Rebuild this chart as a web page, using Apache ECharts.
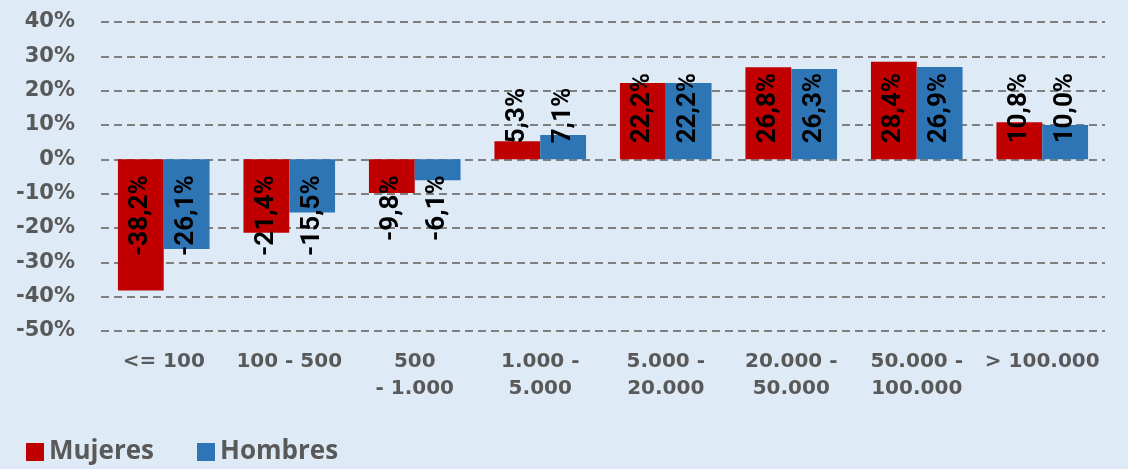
<!DOCTYPE html>
<html>
<head>
<meta charset="utf-8">
<script src="https://cdn.jsdelivr.net/npm/echarts@6/dist/echarts.min.js"></script>
<style>
  html, body { margin: 0; padding: 0; background: #DEEAF6; }
  #chart { width: 1128px; height: 469px; }
</style>
</head>
<body>
<div id="chart"></div>
<script>
// categorias (tamaño de municipio) y variaciones en %
const categories = ['<= 100', '100 - 500', '500\n- 1.000', '1.000 -\n5.000', '5.000 -\n20.000', '20.000 -\n50.000', '50.000 -\n100.000', '> 100.000'];
const mujeres = [-38.2, -21.4, -9.8, 5.3, 22.2, 26.8, 28.4, 10.8];
const hombres = [-26.1, -15.5, -6.1, 7.1, 22.2, 26.3, 26.9, 10.0];

const labelFont = 'Roboto, sans-serif';
const axisFont = '"DejaVu Sans", sans-serif';

// etiqueta girada: positivos arrancan en la base, negativos terminan en la base
function withLabels(values) {
    return values.map(v => ({
        value: v,
        label: v >= 0
            ? { position: 'insideBottom', align: 'left' }
            : { position: 'insideTop', align: 'right' }
    }));
}

const fmt = p => p.value.toFixed(1).replace('.', ',') + '%';

const barLabel = {
    show: true, rotate: 90, distance: 16, verticalAlign: 'middle',
    formatter: fmt,
    fontFamily: labelFont, fontSize: 26, fontWeight: 'bold', color: '#000'
};

const chart = echarts.init(document.getElementById('chart'));
chart.setOption({
    backgroundColor: '#DEEAF6',
    animation: false,
    grid: { left: 101, right: 23, top: 22, bottom: 138 },
    legend: {
        left: 21, top: 434,
        icon: 'rect', itemWidth: 18, itemHeight: 18, itemGap: 43,
        textStyle: { fontFamily: '"Open Sans", sans-serif', fontSize: 26, fontWeight: 'bold', color: '#595959' },
        data: ['Mujeres', 'Hombres']
    },
    xAxis: {
        type: 'category',
        data: categories,
        axisLine: { show: false, onZero: false },
        axisTick: { show: false },
        axisLabel: {
            margin: 17, interval: 0,
            fontFamily: axisFont, fontSize: 20, fontWeight: 'bold',
            color: '#595959', lineHeight: 27
        }
    },
    yAxis: {
        type: 'value',
        min: -50, max: 40, interval: 10,
        axisLine: { show: false },
        axisTick: { show: false },
        axisLabel: {
            formatter: '{value}%', margin: 26,
            fontFamily: axisFont, fontSize: 21, fontWeight: 'bold', color: '#595959'
        },
        splitLine: { lineStyle: { color: '#7F7F7F', width: 2, type: [8, 5] } }
    },
    series: [
        {
            name: 'Mujeres', type: 'bar',
            data: withLabels(mujeres),
            barGap: '0%', barCategoryGap: '27%',
            itemStyle: { color: '#C00000' },
            label: barLabel
        },
        {
            name: 'Hombres', type: 'bar',
            data: withLabels(hombres),
            barGap: '0%', barCategoryGap: '27%',
            itemStyle: { color: '#2E75B6' },
            label: barLabel
        }
    ]
});
</script>
</body>
</html>
